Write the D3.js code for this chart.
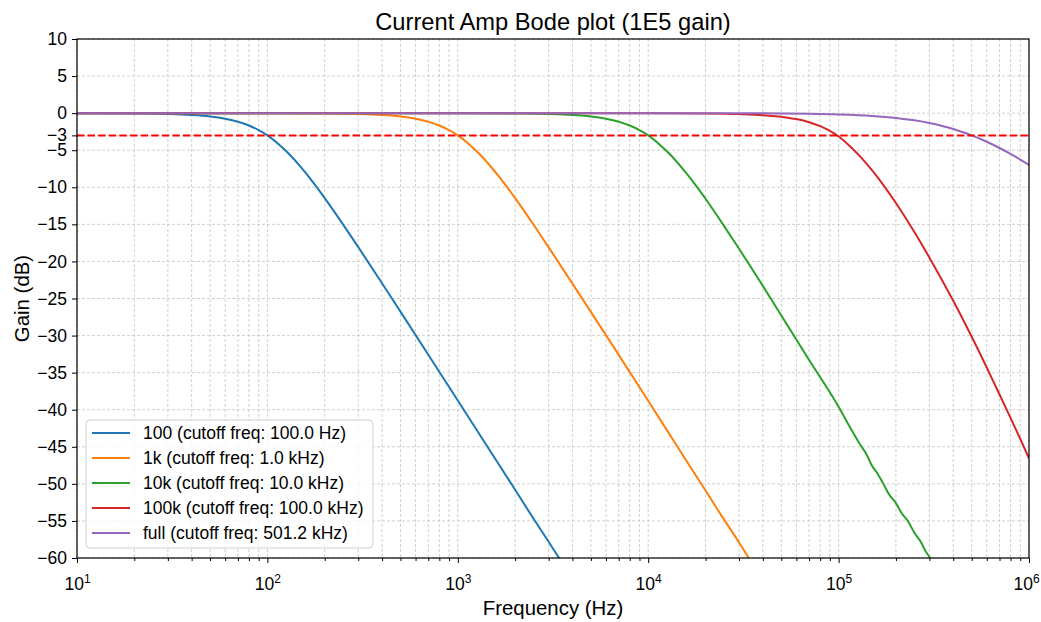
<!DOCTYPE html>
<html>
<head>
<meta charset="utf-8">
<script src="https://cdn.jsdelivr.net/npm/d3@7"></script>
<style>
  body { margin: 0; background: #fff; }
  svg { font-family: "Liberation Sans", Arial, sans-serif; }
</style>
</head>
<body>
<div></div>
<script>
var width = 1041;
var height = 622;

// frequencies (Hz) and gains (dB), one pair of arrays per curve
var f100 = [10, 20, 30, 40, 50, 60, 70, 80, 90, 100, 115, 130, 150, 175, 200, 250, 300, 400, 500, 700, 1000, 1500, 2000, 2500, 3000, 3500];
var g100 = [-0.01, -0.05, -0.12, -0.25, -0.45, -0.75, -1.15, -1.67, -2.29, -3.0, -4.22, -5.52, -7.29, -9.44, -11.46, -15.03, -18.06, -22.94, -26.77, -32.58, -38.76, -45.8, -50.8, -54.7, -57.8, -60.5];

var f1k = [10, 100, 200, 300, 400, 500, 600, 700, 800, 900, 1000, 1150, 1300, 1500, 1750, 2000, 2500, 3000, 4000, 5000, 7000, 10000, 15000, 20000, 24000, 27000, 30000, 33000, 35000];
var g1k = [0, -0.01, -0.05, -0.12, -0.25, -0.45, -0.75, -1.15, -1.67, -2.3, -3.0, -4.22, -5.52, -7.3, -9.45, -11.47, -15.05, -18.1, -23.0, -26.8, -32.6, -38.8, -45.9, -50.9, -54.1, -56.1, -57.9, -59.6, -60.7];

var f10k = [10, 1000, 2000, 3000, 4000, 5000, 6000, 7000, 8000, 9000, 10000, 11500, 13000, 15000, 17500, 20000, 25000, 30000, 40000, 50000, 70000, 100000, 115000, 129000, 140000, 150000, 160000, 171000, 185000, 200000, 215000, 231000, 250000, 270000, 285000, 302000, 310000];
var g10k = [0, -0.01, -0.05, -0.12, -0.25, -0.45, -0.75, -1.15, -1.67, -2.3, -3.0, -4.25, -5.55, -7.35, -9.5, -11.55, -15.2, -18.3, -23.3, -27.3, -33.3, -39.6, -42.4, -44.6, -46.0, -47.6, -48.6, -49.9, -51.5, -52.6, -54.0, -55.0, -56.6, -57.8, -59.0, -60.0, -60.6];

var f100k = [10, 10000, 20000, 30000, 40000, 50000, 60000, 70000, 80000, 90000, 100000, 115000, 130000, 150000, 175000, 200000, 250000, 300000, 400000, 500000, 600000, 700000, 800000, 900000, 1000000];
var g100k = [0, -0.01, -0.05, -0.13, -0.27, -0.5, -0.8, -1.22, -1.76, -2.4, -3.15, -4.49, -5.87, -7.73, -9.97, -12.12, -16.04, -19.49, -25.3, -30.15, -34.3, -37.95, -41.1, -43.95, -46.55];

var fFull = [10, 1000, 10000, 30000, 50000, 70000, 100000, 150000, 200000, 250000, 300000, 350000, 400000, 450000, 500000, 600000, 700000, 800000, 900000, 1000000];
var gFull = [0, 0, 0, -0.02, -0.04, -0.08, -0.17, -0.37, -0.64, -0.97, -1.33, -1.73, -2.14, -2.57, -3.0, -3.86, -4.7, -5.5, -6.26, -6.97];

var labels = ['100 (cutoff freq: 100.0 Hz)', '1k (cutoff freq: 1.0 kHz)', '10k (cutoff freq: 10.0 kHz)', '100k (cutoff freq: 100.0 kHz)', 'full (cutoff freq: 501.2 kHz)'];
var colors = ['#1f77b4', '#ff7f0e', '#2ca02c', '#d62728', '#9467bd'];

var yTicks = [10, 5, 0, -3, -5, -10, -15, -20, -25, -30, -35, -40, -45, -50, -55, -60];
var xTicks = [1e1, 1e2, 1e3, 1e4, 1e5, 1e6];
var cutLine = -3;

var series = [[f100, g100], [f1k, g1k], [f10k, g10k], [f100k, g100k], [fFull, gFull]].map(function (s, i) {
    return {
        label: labels[i],
        color: colors[i],
        points: s[0].map(function (f, j) { return { f: f, g: s[1][j] }; })
    };
});

var pL = 77, pR = 1029, pT = 39, pB = 558;

var x = d3.scaleLog().domain([10, 1e6]).range([pL, pR]);
var y = d3.scaleLinear().domain([-60, 10]).range([pB, pT]);

var svg = d3.select('div')
    .append('svg').attr('width', width).attr('height', height);

svg.append('clipPath').attr('id', 'clip')
    .append('rect').attr('x', pL).attr('y', pT)
    .attr('width', pR - pL).attr('height', pB - pT);

// grid
var minor = x.ticks();
var grid = svg.append('g').attr('stroke', '#c4c4c4').attr('stroke-width', 0.8)
    .attr('stroke-dasharray', '3,2');
grid.selectAll('.vx').data(minor).enter().append('line')
    .attr('x1', function (d) { return x(d); }).attr('x2', function (d) { return x(d); })
    .attr('y1', pT).attr('y2', pB);
grid.selectAll('.hy').data(yTicks).enter().append('line')
    .attr('x1', pL).attr('x2', pR)
    .attr('y1', function (d) { return y(d); }).attr('y2', function (d) { return y(d); });

// curves
var line = d3.line()
    .curve(d3.curveMonotoneX)
    .x(function (d) { return x(d.f); })
    .y(function (d) { return y(d.g); });

var plot = svg.append('g').attr('clip-path', 'url(#clip)');
plot.selectAll('path').data(series).enter().append('path')
    .attr('fill', 'none')
    .attr('stroke', function (d) { return d.color; })
    .attr('stroke-width', 2)
    .attr('stroke-linejoin', 'round')
    .attr('d', function (d) { return line(d.points); });

plot.append('line')
    .attr('x1', pL).attr('x2', pR)
    .attr('y1', y(cutLine)).attr('y2', y(cutLine))
    .attr('stroke', '#ff0000').attr('stroke-width', 2)
    .attr('stroke-dasharray', '7.4,3.2');

// axes
var xMinor = svg.append('g').attr('transform', 'translate(0,' + pB + ')')
    .call(d3.axisBottom(x).tickValues(minor.filter(function (d) { return xTicks.indexOf(d) < 0; }))
        .tickSize(3).tickFormat(''));
xMinor.select('.domain').remove();

var xAxis = svg.append('g').attr('transform', 'translate(0,' + pB + ')')
    .call(d3.axisBottom(x).tickValues(xTicks).tickSize(5).tickPadding(6).tickFormat(''));
xAxis.select('.domain').remove();
xAxis.selectAll('.tick text').each(function (d) {
    var t = d3.select(this)
        .attr('font-size', 17.5).attr('fill', '#000').attr('dy', '1.2em')
        .attr('text-anchor', 'middle')
        .attr('dx', d === 1e6 ? -3 : 0);
    t.append('tspan').text('10');
    t.append('tspan').attr('font-size', 12).attr('dy', '-0.62em').text(Math.round(Math.log10(d)));
});

var yAxis = svg.append('g').attr('transform', 'translate(' + pL + ',0)')
    .call(d3.axisLeft(y).tickValues(yTicks).tickSize(5).tickPadding(5));
yAxis.select('.domain').remove();
yAxis.selectAll('.tick text').attr('font-size', 17.5).attr('fill', '#000');
svg.selectAll('.tick line').attr('stroke', '#000').attr('stroke-width', 1);

svg.append('rect')
    .attr('x', pL).attr('y', pT)
    .attr('width', pR - pL).attr('height', pB - pT)
    .attr('fill', 'none').attr('stroke', '#000').attr('stroke-width', 1.2);

// labels
svg.append('text').attr('x', (pL + pR) / 2).attr('y', 30)
    .attr('text-anchor', 'middle').attr('font-size', 23.7).text('Current Amp Bode plot (1E5 gain)');
svg.append('text').attr('x', (pL + pR) / 2).attr('y', 615)
    .attr('text-anchor', 'middle').attr('font-size', 20.4).text('Frequency (Hz)');
svg.append('text').attr('transform', 'translate(29,' + ((pT + pB) / 2) + ') rotate(-90)')
    .attr('text-anchor', 'middle').attr('font-size', 20.4).text('Gain (dB)');

// legend
var legend = svg.append('g').attr('transform', 'translate(86,420)');
legend.append('rect').attr('width', 287).attr('height', 128).attr('rx', 4)
    .attr('fill', '#fff').attr('fill-opacity', 0.8)
    .attr('stroke', '#d0d0d0').attr('stroke-width', 1);
var item = legend.selectAll('.item').data(series).enter().append('g')
    .attr('transform', function (d, i) { return 'translate(0,' + (13 + i * 25) + ')'; });
item.append('line').attr('x1', 6).attr('x2', 44)
    .attr('stroke', function (d) { return d.color; }).attr('stroke-width', 2);
item.append('text').attr('x', 57).attr('dy', '0.35em').attr('font-size', 17.5)
    .text(function (d) { return d.label; });
</script>
</body>
</html>
